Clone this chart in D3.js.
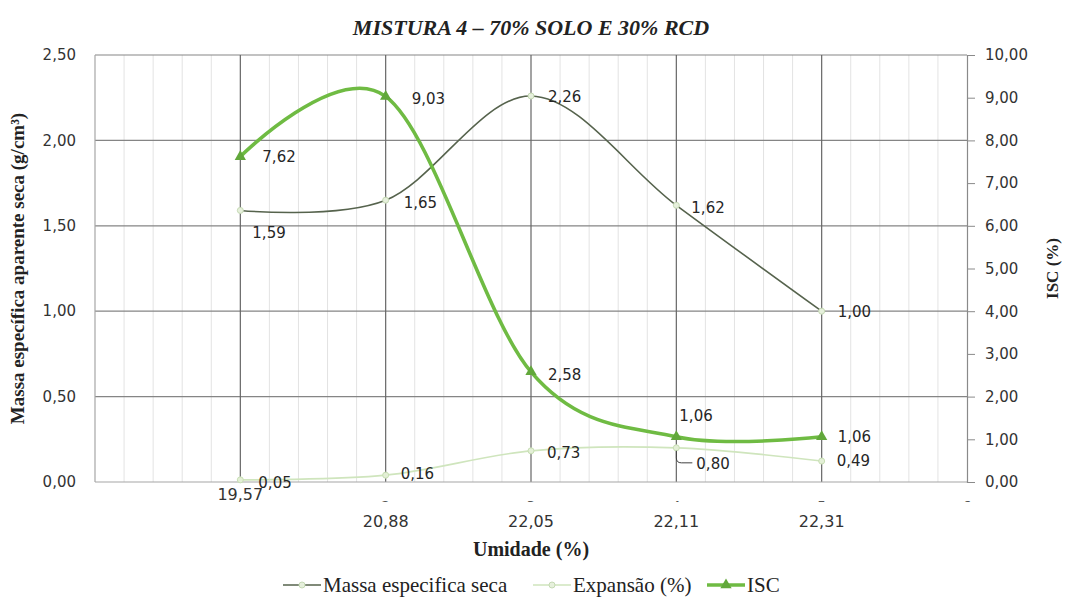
<!DOCTYPE html>
<html>
<head>
<meta charset="utf-8">
<script src="https://cdn.jsdelivr.net/npm/d3@7"></script>
<style>
  body { margin: 0; background: #fff; }
  svg { display: block; }
</style>
</head>
<body>
<svg id="chart" width="1068" height="601"></svg>
<script>
// Moisture content (%) for each specimen, placed at positions 1..5
const umidade = ["19,57", "20,88", "22,05", "22,11", "22,31"];
const positions = [1, 2, 3, 4, 5];
// Dry apparent density (g/cm³) — left axis
const massa = [1.59, 1.65, 2.26, 1.62, 1.00];
// Swelling (%) — right axis
const expansao = [0.05, 0.16, 0.73, 0.80, 0.49];
// ISC / CBR (%) — right axis
const isc = [7.62, 9.03, 2.58, 1.06, 1.06];
// Axis ticks
const leftTicks = [0, 0.5, 1, 1.5, 2, 2.5];
const rightTicks = [0, 1, 2, 3, 4, 5, 6, 7, 8, 9, 10];
const xTicks = [1, 2, 3, 4, 5, 6];

const fmt = v => d3.format(".2f")(v).replace(".", ",");

const svg = d3.select("#chart");
const L = 95, R = 967, T = 55, B = 482;

const x = d3.scaleLinear().domain([0, 6]).range([L, R]);
const yL = d3.scaleLinear().domain([0, 2.5]).range([B, T]);
const yR = d3.scaleLinear().domain([0, 10]).range([B, T]);

const sans = "DejaVu Sans, Verdana, sans-serif";
const serif = "Liberation Serif, Times New Roman, serif";

// Minor vertical gridlines
const minor = d3.range(0, 6.001, 0.2).filter(v => Math.abs(v - Math.round(v)) > 0.01);
svg.append("g").selectAll("line").data(minor).join("line")
  .attr("x1", d => x(d)).attr("x2", d => x(d))
  .attr("y1", T).attr("y2", B)
  .attr("stroke", "#e3e3e3").attr("stroke-width", 1);

// Major gridlines
svg.append("g").selectAll("line").data(leftTicks.slice(1)).join("line")
  .attr("x1", L).attr("x2", R)
  .attr("y1", d => yL(d)).attr("y2", d => yL(d))
  .attr("stroke", "#858585").attr("stroke-width", 1.2);
svg.append("g").selectAll("line").data(xTicks.slice(0, 5)).join("line")
  .attr("x1", d => x(d)).attr("x2", d => x(d))
  .attr("y1", T).attr("y2", B)
  .attr("stroke", "#666").attr("stroke-width", 1.2);

// Plot frame: left edge, bottom axis
svg.append("line").attr("x1", L).attr("x2", L).attr("y1", T).attr("y2", B)
  .attr("stroke", "#a6a6a6").attr("stroke-width", 1.2);
svg.append("line").attr("x1", L).attr("x2", R).attr("y1", B).attr("y2", B)
  .attr("stroke", "#a6a6a6").attr("stroke-width", 1.2);

// Right axis with outward ticks
const rAxis = svg.append("g").attr("transform", `translate(${R},0)`)
  .call(d3.axisRight(yR).tickValues(rightTicks).tickSize(8).tickPadding(10).tickFormat(fmt));
rAxis.select(".domain").attr("stroke", "#8a8a8a").attr("stroke-width", 1.2);
rAxis.selectAll(".tick line").attr("stroke", "#8a8a8a");
rAxis.selectAll("text").attr("font-family", sans).attr("font-size", 15).attr("fill", "#333");

// Left axis labels (no ticks)
svg.append("g").selectAll("text").data(leftTicks).join("text")
  .attr("x", L - 19).attr("y", d => yL(d)).attr("dy", "0.35em")
  .attr("text-anchor", "end")
  .attr("font-family", sans).attr("font-size", 15).attr("fill", "#333")
  .text(fmt);

// Numeric x ticks, mostly hidden beneath the moisture labels
svg.append("clipPath").attr("id", "xnumclip")
  .append("rect").attr("x", 0).attr("y", B + 15).attr("width", 1068).attr("height", 5);
svg.append("g").attr("clip-path", "url(#xnumclip)")
  .selectAll("text").data(xTicks.slice(1)).join("text")
  .attr("x", d => x(d)).attr("y", B + 29)
  .attr("text-anchor", "middle")
  .attr("font-family", sans).attr("font-size", 14).attr("fill", "#555")
  .text(d => d);

// Moisture category labels
svg.append("g").selectAll("text").data(umidade).join("text")
  .attr("x", (d, i) => x(positions[i]))
  .attr("y", (d, i) => i === 0 ? B + 18 : B + 45)
  .attr("text-anchor", "middle")
  .attr("font-family", sans).attr("font-size", 16).attr("fill", "#333")
  .text(d => d);

// Series
const curve = d3.curveCardinal.tension(0);
const series = [
  { name: "Massa especifica seca", vals: massa, y: yL, color: "#56634d", width: 1.6, marker: "circle" },
  { name: "Expansão (%)", vals: expansao, y: yR, color: "#cfe5bd", width: 1.6, marker: "circle" },
  { name: "ISC", vals: isc, y: yR, color: "#6fbb43", width: 3.6, marker: "triangle" }
];

series.forEach(s => {
  const line = d3.line().curve(curve).x((d, i) => x(positions[i])).y(d => s.y(d));
  svg.append("path").datum(s.vals).attr("d", line)
    .attr("fill", "none").attr("stroke", s.color).attr("stroke-width", s.width)
    .attr("stroke-linejoin", "round");
});

// Markers
svg.append("g").selectAll("circle").data(massa).join("circle")
  .attr("cx", (d, i) => x(positions[i])).attr("cy", d => yL(d)).attr("r", 3)
  .attr("fill", "#e6f0dc").attr("stroke", "#c5d9b4").attr("stroke-width", 1);
svg.append("g").selectAll("circle").data(expansao).join("circle")
  .attr("cx", (d, i) => x(positions[i])).attr("cy", d => yR(d)).attr("r", 3)
  .attr("fill", "#e3efd6").attr("stroke", "#c8dfb4").attr("stroke-width", 1);
const tri = d3.symbol().type(d3.symbolTriangle).size(55);
svg.append("g").selectAll("path").data(isc).join("path")
  .attr("d", tri)
  .attr("transform", (d, i) => `translate(${x(positions[i])},${yR(d)})`)
  .attr("fill", "#62a83b");

// Data labels: [dx, dy] offsets from each point
const massaOff = [[12, 22], [18, 3], [17, 1], [15, 2], [16, 1]];
const expOff = [[18, 3], [15, -1], [16, 2], [20, 16], [15, 0]];
const iscOff = [[22, 0], [26, 2], [17, 3], [3, -21], [16, 0]];
function labels(vals, yScale, off) {
  svg.append("g").selectAll("text").data(vals).join("text")
    .attr("x", (d, i) => x(positions[i]) + off[i][0])
    .attr("y", (d, i) => yScale(d) + off[i][1])
    .attr("dy", "0.35em")
    .attr("font-family", sans).attr("font-size", 15).attr("fill", "#262626")
    .text(fmt);
}
labels(massa, yL, massaOff);
labels(expansao, yR, expOff);
labels(isc, yR, iscOff);

// Leader line for the 0,80 label
{
  const px = x(positions[3]), py = yR(expansao[3]);
  svg.append("path")
    .attr("d", `M${px},${py + 3} L${px},${py + 10} Q${px},${py + 15} ${px + 5},${py + 15} L${px + 16},${py + 15}`)
    .attr("fill", "none").attr("stroke", "#404040").attr("stroke-width", 1);
}

// Titles
svg.append("text").attr("x", 531).attr("y", 35).attr("text-anchor", "middle")
  .attr("font-family", serif).attr("font-style", "italic").attr("font-weight", "bold")
  .attr("font-size", 22).attr("fill", "#222")
  .text("MISTURA 4 – 70% SOLO E 30% RCD");

svg.append("text").attr("transform", `translate(24,${(T + B) / 2}) rotate(-90)`)
  .attr("text-anchor", "middle")
  .attr("font-family", serif).attr("font-weight", "bold").attr("font-size", 19).attr("fill", "#222")
  .text("Massa específica aparente seca (g/cm³)");

svg.append("text").attr("transform", `translate(1058,${(T + B) / 2}) rotate(-90)`)
  .attr("text-anchor", "middle")
  .attr("font-family", serif).attr("font-weight", "bold").attr("font-size", 17).attr("fill", "#222")
  .text("ISC (%)");

svg.append("text").attr("x", 531).attr("y", 556).attr("text-anchor", "middle")
  .attr("font-family", serif).attr("font-weight", "bold").attr("font-size", 20).attr("fill", "#222")
  .text("Umidade (%)");

// Legend
const legendX = [283, 533, 707];
const lg = svg.append("g").selectAll("g").data(series).join("g")
  .attr("transform", (d, i) => `translate(${legendX[i]},585)`);
lg.append("line").attr("x1", 0).attr("x2", 38).attr("y1", 0).attr("y2", 0)
  .attr("stroke", d => d.color).attr("stroke-width", d => d.width);
lg.filter(d => d.marker === "circle").append("circle")
  .attr("cx", 19).attr("cy", 0).attr("r", 3)
  .attr("fill", "#e6f0dc").attr("stroke", "#c5d9b4");
lg.filter(d => d.marker === "triangle").append("path")
  .attr("d", tri).attr("transform", "translate(19,0)").attr("fill", "#62a83b");
lg.append("text").attr("x", 40).attr("y", 0).attr("dy", "0.33em")
  .attr("font-family", serif).attr("font-size", 21).attr("fill", "#222")
  .text(d => d.name);
</script>
</body>
</html>
